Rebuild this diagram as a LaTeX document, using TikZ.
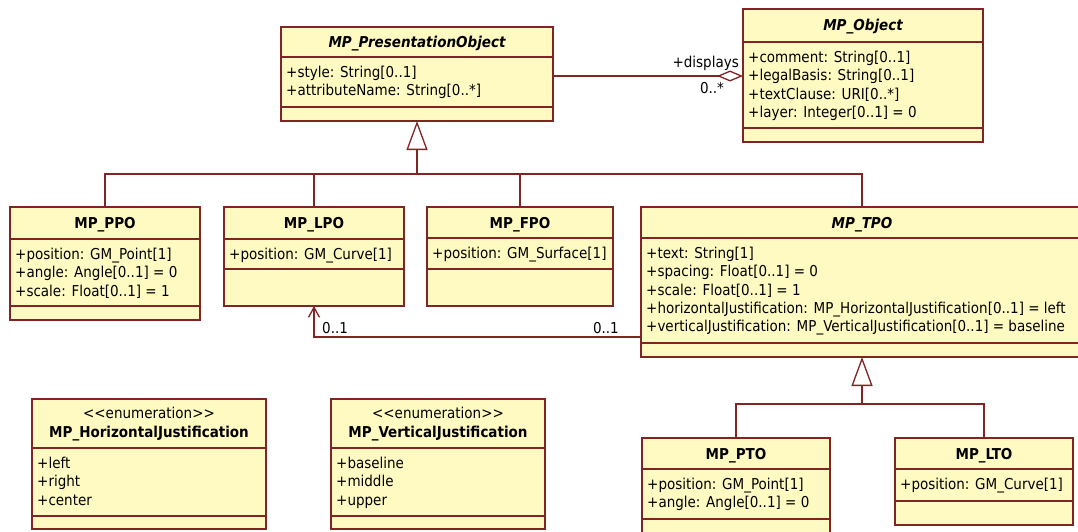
\documentclass[tikz,border=0pt]{standalone}
\usepackage{fontspec}
\setmainfont{DejaVu Sans Condensed}
\usetikzlibrary{arrows.meta}

\definecolor{umlline}{RGB}{128,36,36}
\definecolor{umlfill}{RGB}{255,250,194}

\tikzset{
  classbox/.style={draw=umlline, fill=umlfill, line width=1.3pt, inner sep=0pt, outer sep=0pt},
  sepline/.style={draw=umlline, line width=1.3pt},
  titletext/.style={inner sep=0pt, font=\fontsize{15}{18}\selectfont\bfseries},
  attrtext/.style={inner sep=0pt, font=\fontsize{15}{18}\selectfont},
  connector/.style={draw=umlline, line width=1.3pt},
  inherit/.style={connector, -{Triangle[open, length=29pt, width=21pt]}},
  aggregate/.style={connector, -{Diamond[open, length=26pt, width=11pt]}},
  navigable/.style={connector, -{Straight Barb[length=10pt, width=11pt]}},
  rolelabel/.style={inner sep=0pt, font=\fontsize{15}{18}\selectfont},
}

% class box: name, x, y (top), width, header height, attribute height,
% operation height, title, attribute rows
\newcommand{\umlclass}[9]{%
  \node[classbox, anchor=north west, minimum width=#4pt,
        minimum height={#5pt+#6pt+#7pt}] (#1) at (#2,#3) {};
  \draw[sepline] ([yshift=-#5pt]#1.north west) -- ([yshift=-#5pt]#1.north east);
  \draw[sepline] ([yshift={-#5pt-#6pt}]#1.north west) -- ([yshift={-#5pt-#6pt}]#1.north east);
  \node[titletext, anchor=base] (#1-name) at ([yshift={-0.5*#5pt-5.5pt}]#1.north) {#8};
  \foreach \row [count=\i] in {#9}
    \node[attrtext, anchor=base west] (#1-row\i)
      at ([xshift=5pt, yshift={-#5pt-20.5pt-(\i-1)*18.3pt}]#1.north west) {\row};
}

% enumeration box: name, x, y (top), width, title, literals
\newcommand{\umlenum}[6]{%
  \node[classbox, anchor=north west, minimum width=#4pt, minimum height=130pt] (#1) at (#2,#3) {};
  \draw[sepline] ([yshift=-49pt]#1.north west) -- ([yshift=-49pt]#1.north east);
  \draw[sepline] ([yshift=-117pt]#1.north west) -- ([yshift=-117pt]#1.north east);
  \node[attrtext, anchor=base] (#1-stereo) at ([yshift=-19pt]#1.north)
    {\textless\kern0pt\textless enumeration\textgreater\kern0pt\textgreater};
  \node[titletext, anchor=base] (#1-name) at ([yshift=-38pt]#1.north) {#5};
  \foreach \row [count=\i] in {#6}
    \node[attrtext, anchor=base west] (#1-row\i)
      at ([xshift=5pt, yshift={-69.5pt-(\i-1)*18.3pt}]#1.north west) {\row};
}

\begin{document}
\begin{tikzpicture}[x=1pt, y=-1pt]
\useasboundingbox (0,0) rectangle (1078,532);
\fill[white] (0,0) rectangle (1078,532);
\clip (0,0) rectangle (1078,532);

% abstract classes
\umlclass{presobj}{281}{27}{272}{30}{50}{14}{\itshape MP\_PresentationObject}
  {{+style: String[0..1]},{+attributeName: String[0..*]}}
\umlclass{mpobj}{743}{9}{240}{33}{86}{14}{\itshape MP\_Object}
  {{+comment: String[0..1]},{+legalBasis: String[0..1]},{+textClause: URI[0..*]},{+layer: Integer[0..1] = 0}}

% presentation object kinds
\umlclass{ppo}{10}{207}{190}{32}{67}{14}{MP\_PPO}
  {{+position: GM\_Point[1]},{+angle: Angle[0..1] = 0},{+scale: Float[0..1] = 1}}
\umlclass{lpo}{224}{207}{180}{32}{30}{37}{MP\_LPO}
  {{+position: GM\_Curve[1]}}
\umlclass{fpo}{427}{207}{186}{31}{31}{37}{MP\_FPO}
  {{+position: GM\_Surface[1]}}
\umlclass{tpo}{641}{207}{442}{31}{105}{14}{\itshape MP\_TPO}
  {{+text: String[1]},{+spacing: Float[0..1] = 0},{+scale: Float[0..1] = 1},
   {+horizontalJustification: MP\_HorizontalJustification[0..1] = left},
   {+verticalJustification: MP\_VerticalJustification[0..1] = baseline}}

% text placements
\umlclass{pto}{642}{438}{188}{31}{50}{14}{MP\_PTO}
  {{+position: GM\_Point[1]},{+angle: Angle[0..1] = 0}}
\umlclass{lto}{895}{438}{178}{31}{32}{24}{MP\_LTO}
  {{+position: GM\_Curve[1]}}

% enumerations
\umlenum{hjust}{32}{399}{234}{MP\_HorizontalJustification}
  {{+left},{+right},{+center}}
\umlenum{vjust}{331}{399}{214}{MP\_VerticalJustification}
  {{+baseline},{+middle},{+upper}}

% generalisation to MP_PresentationObject
\coordinate (bar1) at (0,174);
\draw[inherit] (presobj.south |- bar1) -- (presobj.south);
\foreach \c in {ppo,lpo,fpo,tpo}
  \draw[connector] (\c.north) |- (presobj.south |- bar1);

% generalisation to MP_TPO
\coordinate (bar2) at (0,404);
\draw[inherit] (tpo.south |- bar2) -- (tpo.south);
\foreach \c in {pto,lto}
  \draw[connector] (\c.north) |- (tpo.south |- bar2);

% aggregation MP_PresentationObject -> MP_Object
\coordinate (disprow) at (0,76);
\draw[aggregate] (presobj.east |- disprow) -- (mpobj.west |- disprow);
\node[rolelabel, anchor=base east] (displays) at (739,68) {+displays};
\node[rolelabel, anchor=base] (dispmult) at (712,94) {0..*};

% navigable association MP_TPO -> MP_LPO
\coordinate (navrow) at (0,337);
\draw[navigable] (tpo.west |- navrow) -| (lpo.south);
\node[rolelabel, anchor=base west] (lpomult) at (322,333) {0..1};
\node[rolelabel, anchor=base east] (tpomult) at (619,333) {0..1};
\end{tikzpicture}
\end{document}
